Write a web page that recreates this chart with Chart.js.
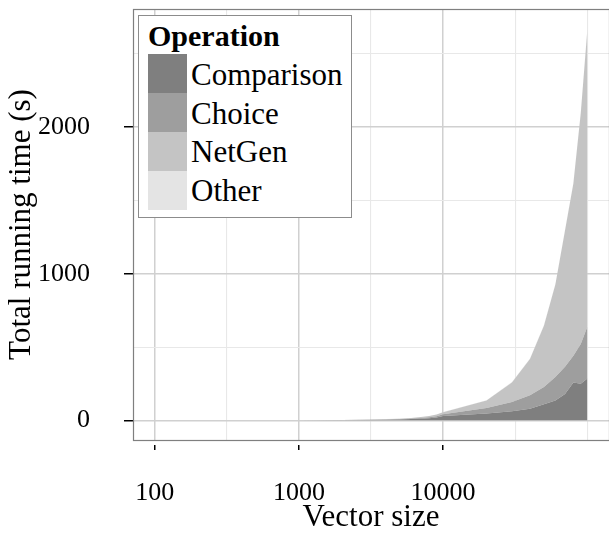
<!DOCTYPE html>
<html>
<head>
<meta charset="utf-8">
<script src="https://cdn.jsdelivr.net/npm/chart.js@4.4.1/dist/chart.umd.min.js"></script>
<style>
  html, body { margin: 0; padding: 0; background: #fff; }
  #wrap { position: relative; width: 609px; height: 536px; }
  #legend { position: absolute; left: 138px; top: 15px; width: 214px; height: 203px; box-sizing: border-box; border: 1px solid #8c8c8c; background: #fff; font-family: 'Liberation Serif', serif; color: #000; }
  #legend .title { position: absolute; left: 9px; top: 5px; font-size: 30px; line-height: 30px; font-weight: bold; }
  #legend .row { position: absolute; left: 9px; height: 39px; display: flex; align-items: center; }
  #legend .key { width: 39px; height: 39px; }
  #legend .label { font-size: 31px; margin-left: 4px; padding-top: 2px; }
</style>
</head>
<body>
<div id="wrap">
  <canvas id="chart" width="609" height="536"></canvas>
  <div id="legend"></div>
</div>
<script>
const sizes = [100, 200, 300, 400, 500, 600, 700, 800, 900,
    1000, 2000, 3000, 4000, 5000, 6000, 7000, 8000, 9000,
    10000, 20000, 30000, 40000, 50000, 60000, 70000, 80000, 90000, 100000];
const comparison = [0.02, 0.05, 0.08, 0.12, 0.17, 0.22, 0.28, 0.35, 0.42,
    0.5, 1.5, 2.8, 4.3, 6.2, 8.5, 11.5, 15, 20,
    30, 46, 62, 80, 110, 135, 180, 258, 250, 285];
const choice = [0.01, 0.02, 0.04, 0.06, 0.08, 0.1, 0.13, 0.16, 0.19,
    0.22, 0.6, 1.1, 1.7, 2.5, 3.5, 4.8, 6.3, 8.2,
    11, 38, 63, 91, 118, 161, 185, 182, 270, 353];
const netgen = [0.01, 0.02, 0.03, 0.05, 0.07, 0.09, 0.11, 0.14, 0.17,
    0.2, 0.6, 1.2, 2, 3, 4.3, 6, 8.2, 11,
    15, 51, 134, 248, 418, 630, 930, 1175, 1575, 2027];
const other = [0.05, 0.05, 0.06, 0.06, 0.07, 0.07, 0.08, 0.08, 0.09,
    0.1, 0.2, 0.3, 0.4, 0.5, 0.6, 0.7, 0.8, 0.9,
    1, 2, 3, 3, 4, 4, 5, 5, 5, 8];

const seriesNames = ['Comparison', 'Choice', 'NetGen', 'Other'];
const seriesValues = [comparison, choice, netgen, other];
const seriesColors = ['#7f7f7f', '#9e9e9e', '#c4c4c4', '#e4e4e4'];
const legendTitle = 'Operation';

const xTickLabels = [100, 1000, 10000];
const xMinorTicks = [316.23, 3162.3, 31623, 100000];
const yTickLabels = [0, 1000, 2000];
const yMinorTicks = [500, 1500, 2500];

const serif = "'Liberation Serif', 'DejaVu Serif', serif";

// panel outline like ggplot's theme
const panelBorder = {
    id: 'panelBorder',
    afterDraw(chart) {
        const a = chart.chartArea;
        const ctx = chart.ctx;
        ctx.save();
        ctx.strokeStyle = '#7f7f7f';
        ctx.lineWidth = 1.2;
        ctx.strokeRect(a.left + 0.5, a.top + 0.5, a.right - a.left, a.bottom - a.top);
        ctx.restore();
    }
};

const htmlLegend = {
    id: 'htmlLegend',
    afterUpdate(chart) {
        const box = document.getElementById('legend');
        const items = Chart.defaults.plugins.legend.labels.generateLabels(chart);
        box.innerHTML = `<div class="title">${legendTitle}</div>` + items.map((item, i) => (
            `<div class="row" style="top:${38.3 + i * 38.75}px"><div class="key" style="background:${item.fillStyle}"></div><div class="label">${item.text}</div></div>`
        )).join('');
    }
};

function gridColor(majors) {
    return ctx => (ctx.tick && majors.includes(ctx.tick.value)) ? '#d0d0d0' : '#e8e8e8';
}
function gridWidth(majors) {
    return ctx => (ctx.tick && majors.includes(ctx.tick.value)) ? 1.5 : 1.1;
}
function tickColor(majors) {
    return ctx => (ctx.tick && majors.includes(ctx.tick.value)) ? '#000' : 'rgba(0,0,0,0)';
}

const datasets = seriesNames.map((name, i) => ({
    label: name,
    data: sizes.map((s, j) => ({ x: s, y: seriesValues[i][j] })),
    backgroundColor: seriesColors[i],
    borderColor: 'rgba(0,0,0,0)',
    borderWidth: 0,
    pointRadius: 0,
    tension: 0,
    fill: i === 0 ? 'origin' : '-1'
}));

new Chart(document.getElementById('chart'), {
    type: 'line',
    data: { datasets },
    plugins: [panelBorder, htmlLegend],
    options: {
        responsive: false,
        animation: false,
        devicePixelRatio: 1,
        layout: { padding: { top: 9, right: 0, bottom: 0, left: 0 } },
        plugins: {
            legend: { display: false },
            tooltip: { enabled: false }
        },
        scales: {
            x: {
                type: 'logarithmic',
                min: Math.pow(10, 1.85),
                max: Math.pow(10, 5.15),
                afterBuildTicks: s => {
                    s.ticks = xTickLabels.concat(xMinorTicks).sort((a, b) => a - b).map(v => ({ value: v }));
                },
                afterFit: s => {
                    s.height = 96;
                    s.paddingLeft = 0;
                    s.paddingRight = 0;
                },
                border: { display: false },
                grid: {
                    color: gridColor(xTickLabels),
                    lineWidth: gridWidth(xTickLabels),
                    tickColor: tickColor(xTickLabels),
                    tickLength: 10,
                    tickWidth: 1.5,
                    tickBorderDash: [0, 5, 5, 100]
                },
                ticks: {
                    autoSkip: false,
                    maxRotation: 0,
                    padding: 28,
                    color: '#000',
                    font: { family: serif, size: 26 },
                    callback: v => xTickLabels.includes(v) ? String(v) : ''
                },
                title: {
                    display: true,
                    text: 'Vector size',
                    color: '#000',
                    font: { family: serif, size: 31 },
                    padding: { top: 0, bottom: 0 }
                }
            },
            y: {
                stacked: true,
                min: -134,
                max: 2806,
                afterBuildTicks: s => {
                    s.ticks = yTickLabels.concat(yMinorTicks).sort((a, b) => a - b).map(v => ({ value: v }));
                },
                afterFit: s => {
                    s.width = 133;
                    s.paddingTop = 0;
                    s.paddingBottom = 0;
                },
                border: { display: false },
                grid: {
                    color: gridColor(yTickLabels),
                    lineWidth: gridWidth(yTickLabels),
                    tickColor: tickColor(yTickLabels),
                    tickLength: 9,
                    tickWidth: 1.5
                },
                ticks: {
                    padding: 34,
                    color: '#000',
                    font: { family: serif, size: 26 },
                    callback: v => yTickLabels.includes(v) ? String(v) : ''
                },
                title: {
                    display: true,
                    text: 'Total running time (s)',
                    color: '#000',
                    font: { family: serif, size: 31 },
                    padding: { top: 3, bottom: 0 }
                }
            }
        }
    }
});
</script>
</body>
</html>
